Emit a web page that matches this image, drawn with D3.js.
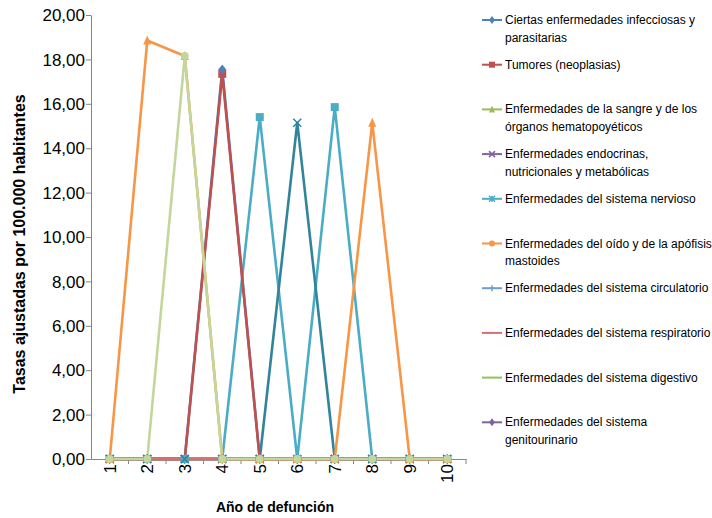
<!DOCTYPE html>
<html><head><meta charset="utf-8">
<script src="https://cdn.jsdelivr.net/npm/d3@7/dist/d3.min.js"></script>
<style>
body{margin:0;background:#fff;}
svg{display:block;font-family:"Liberation Sans",Arial,sans-serif;}
</style>
</head><body>
<svg id="chart" width="712" height="518"></svg>
<script>
// ---- data ----
const categories = ["1","2","3","4","5","6","7","8","9","10"];
const yTickValues = [0,2,4,6,8,10,12,14,16,18,20];
const seriesNames = [
  "Ciertas enfermedades infecciosas y parasitarias",
  "Tumores (neoplasias)",
  "Enfermedades de la sangre y de los órganos hematopoyéticos",
  "Enfermedades endocrinas, nutricionales y metabólicas",
  "Enfermedades del sistema nervioso",
  "Enfermedades del oído y de la apófisis mastoides",
  "Enfermedades del sistema circulatorio",
  "Enfermedades del sistema respiratorio",
  "Enfermedades del sistema digestivo",
  "Enfermedades del sistema genitourinario",
  "Serie 11", "Serie 12", "Serie 13", "Serie 14"
];
const infecciosas    = [0,0,0,17.55,0,0,0,0,0,0];
const tumores        = [0,0,0,17.35,0,0,0,0,0,0];
const sangre         = [0,0,0,0,0,0,0,0,0,0];
const endocrinas     = [0,0,0,0,0,0,0,0,0,0];
const nervioso       = [0,0,0,0,0,0,0,0,0,0];
const oido           = [0,0,0,0,0,0,0,0,0,0];
const circulatorio   = [0,0,0,0,0,0,0,0,0,0];
const respiratorio   = [0,0,0,0,0,0,0,0,0,0];
const digestivo      = [0,0,0,0,0,0,0,0,0,0];
const genitourinario = [0,0,0,0,0,0,0,0,0,0];
const serie11        = [0,0,0,0,15.4,0,15.85,0,0,0];
const serie12        = [0,0,0,0,0,15.15,0,0,0,0];
const serie13        = [0,18.85,18.15,0,0,0,0,15.15,0,0];
const serie14        = [0,0,18.15,0,0,0,0,0,0,0];
const seriesValues = [infecciosas,tumores,sangre,endocrinas,nervioso,oido,circulatorio,respiratorio,digestivo,genitourinario,serie11,serie12,serie13,serie14];
const legendCount = 10;

// ---- style ----
const colors  = ["#4F81BD","#C0504D","#9BBB59","#8064A2","#4BACC6","#F79646","#6E9ED6","#D7706D","#92C353","#8064A2","#4BACC6","#31849B","#F79646","#C3D69B"];
const markers = ["diamond","square","triangle","x","asterisk","circle","plus","none","none","diamond","square","x","triangle","circle"];
// order in which the lines are stacked (indices into seriesValues)
const lineOrder = [10,11,0,2,3,4,5,6,8,9,1,7,12,13];

const svg = d3.select("#chart");
const margin = {left:91, top:15, right:466, bottom:459};
const x = d3.scaleBand().domain(categories).range([margin.left, margin.right]).padding(0);
const y = d3.scaleLinear().domain([0,20]).range([margin.bottom, margin.top]);
const cx = c => x(c) + x.bandwidth()/2;

const axisColor = "#868686";
const FONT = "Liberation Sans, Arial, sans-serif";

// y axis
const yAxis = svg.append("g").attr("transform",`translate(${margin.left},0)`)
  .call(d3.axisLeft(y).tickValues(yTickValues).tickSize(5).tickSizeOuter(0)
    .tickFormat(d => d.toFixed(2).replace(".",",")));
yAxis.select(".domain").attr("stroke",axisColor);
yAxis.selectAll(".tick line").attr("stroke",axisColor);
yAxis.selectAll(".tick text").attr("font-size",17).attr("fill","#000").attr("font-family",FONT).attr("x",-6).attr("dy","0.34em");

// x axis
const xAxis = svg.append("g").attr("transform",`translate(0,${margin.bottom})`)
  .call(d3.axisBottom(x).tickSize(0).tickSizeOuter(0));
xAxis.select(".domain").attr("stroke",axisColor);
xAxis.selectAll(".tick text")
  .attr("font-size",17).attr("fill","#000").attr("font-family",FONT)
  .attr("transform","rotate(-90)").attr("text-anchor","end").attr("dy","0.35em").attr("x",-5).attr("y",0);
const bounds = categories.map(c => x(c)).concat([x(categories[categories.length-1]) + x.bandwidth()]);
svg.append("g").selectAll("line").data(bounds.slice(1)).join("line")
  .attr("x1",d=>d).attr("x2",d=>d).attr("y1",margin.bottom).attr("y2",margin.bottom+5)
  .attr("stroke",axisColor);

// titles
svg.append("text").attr("x",275).attr("y",512).attr("text-anchor","middle")
  .attr("font-weight","bold").attr("font-size",14).attr("font-family",FONT).text("Año de defunción");
svg.append("text").attr("transform","translate(25,244) rotate(-90)").attr("text-anchor","middle")
  .attr("font-weight","bold").attr("font-size",16).attr("font-family",FONT).text("Tasas ajustadas por 100.000 habitantes");

// marker drawing
function drawMarker(g, type, color, px, py, s) {
  const h = s/2;
  if (type === "diamond") g.append("path").attr("d",`M${px},${py-h-1}L${px+h},${py}L${px},${py+h+1}L${px-h},${py}Z`).attr("fill",color);
  else if (type === "square") g.append("rect").attr("x",px-h).attr("y",py-h).attr("width",s).attr("height",s).attr("fill",color);
  else if (type === "triangle") g.append("path").attr("d",`M${px},${py-h-1}L${px+h},${py+h}L${px-h},${py+h}Z`).attr("fill",color);
  else if (type === "circle") g.append("circle").attr("cx",px).attr("cy",py).attr("r",h).attr("fill",color);
  else if (type === "x") g.append("path").attr("d",`M${px-h},${py-h}L${px+h},${py+h}M${px-h},${py+h}L${px+h},${py-h}`).attr("stroke",color).attr("stroke-width",1.5);
  else if (type === "asterisk") g.append("path").attr("d",`M${px-h},${py-h}L${px+h},${py+h}M${px-h},${py+h}L${px+h},${py-h}M${px},${py-h}L${px},${py+h}`).attr("stroke",color).attr("stroke-width",1.5);
  else if (type === "plus") g.append("path").attr("d",`M${px-h},${py}L${px+h},${py}M${px},${py-h}L${px},${py+h}`).attr("stroke",color).attr("stroke-width",1.5);
}

// series: all lines first, then all markers
const line = d3.line().x((d,i)=>cx(categories[i])).y(d=>y(d));
const linesG = svg.append("g");
lineOrder.forEach(si => {
  linesG.append("path").attr("d", line(seriesValues[si])).attr("fill","none")
    .attr("stroke",colors[si]).attr("stroke-width",2.6).attr("stroke-linejoin","round");
});
const markG = svg.append("g");
const markerOrder = [1,0,2,3,4,5,6,7,8,9,10,11,12,13];
markerOrder.forEach(si => {
  seriesValues[si].forEach((v,i) => drawMarker(markG, markers[si], colors[si], cx(categories[i]), y(v), 8));
});

// legend
const legend = svg.append("g");
const legendTop = 20, legendStep = 44.7;
const wrapped = [
  ["Ciertas enfermedades infecciosas y","parasitarias"],
  ["Tumores (neoplasias)"],
  ["Enfermedades de la sangre y de los","órganos hematopoyéticos"],
  ["Enfermedades endocrinas,","nutricionales y metabólicas"],
  ["Enfermedades del sistema nervioso"],
  ["Enfermedades del oído y de la apófisis","mastoides"],
  ["Enfermedades del sistema circulatorio"],
  ["Enfermedades del sistema respiratorio"],
  ["Enfermedades del sistema digestivo"],
  ["Enfermedades del sistema","genitourinario"]
];
for (let i = 0; i < legendCount; i++) {
  const ly = legendTop + i*legendStep;
  const g = legend.append("g");
  g.append("line").attr("x1",482).attr("x2",502).attr("y1",ly).attr("y2",ly).attr("stroke",colors[i]).attr("stroke-width",2);
  drawMarker(g, markers[i], colors[i], 492, ly, 6);
  const t = g.append("text").attr("x",505).attr("y",ly+4).attr("font-size",12).attr("font-family",FONT).attr("fill","#000");
  wrapped[i].forEach((s,k) => t.append("tspan").attr("x",505).attr("dy", k===0?0:17.5).text(s));
}
</script>
</body></html>
